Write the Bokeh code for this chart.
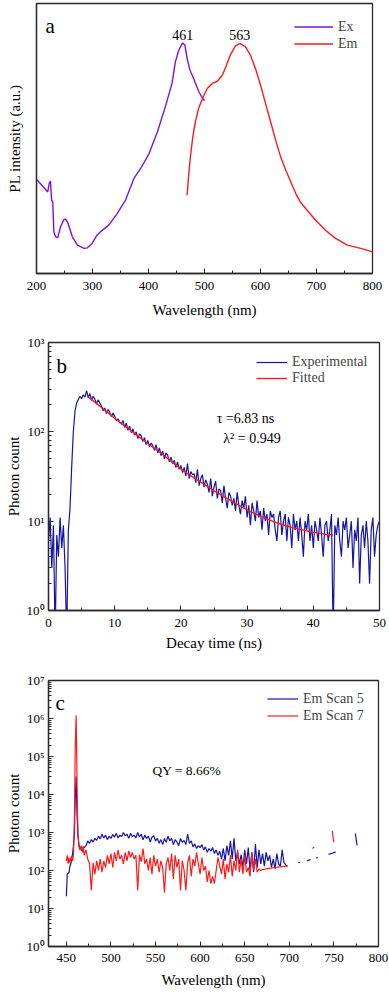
import math
from bokeh.plotting import figure
from bokeh.models import Range1d, FixedTicker, Legend, LegendItem, Label
from bokeh.layouts import column
from bokeh.embed import file_html
from bokeh.resources import INLINE

FONT = "Liberation Serif"
nan = float("nan")

# ---------------- panel a : excitation / emission spectra ----------------
ex_wl = [200, 220, 223, 225, 227, 229, 231, 234, 238, 243,
         249, 252, 256, 264, 273, 285, 291, 299, 308, 314,
         329, 344, 359, 374, 386, 401, 416, 430, 442, 448,
         454, 461, 465, 469, 474, 478, 484, 490, 496, 500]
ex_int = [34.9, 30.2, 33.6, 34.2, 27.2, 26.5, 15.4, 13.6, 13.3, 17.3,
          20.0, 20.1, 18.8, 13.6, 10.5, 9.3, 9.5, 11.1, 14.2, 15.4,
          17.9, 22.2, 27.2, 35.2, 38.9, 44.4, 52.5, 61.7, 70.4, 78.4,
          82.7, 85.4, 84.6, 79.6, 75.3, 73.5, 70.4, 67.3, 65.0, 64.0]
em_wl = [469, 472, 475, 479, 484, 490, 496, 500, 505, 514,
         523, 532, 538, 546, 555, 563, 573, 582, 591, 600,
         609, 618, 627, 636, 645, 654, 663, 671, 683, 698,
         716, 734, 755, 779, 800]
em_int = [29.0, 37.0, 43.5, 50.5, 56.5, 61.5, 64.5, 66.5, 68.5, 70.4,
          71.2, 73.5, 76.5, 80.9, 84.2, 85.2, 84.0, 80.9, 75.9, 69.8,
          63.0, 56.2, 49.4, 43.2, 38.3, 34.0, 29.6, 26.5, 23.5, 19.8,
          16.0, 13.0, 10.5, 9.3, 8.0]
a_xticks = [200, 300, 400, 500, 600, 700, 800]
peak_labels = [(461, "461"), (563, "563")]

# ---------------- panel b : decay ----------------
decay_t = [i * 0.25 for i in range(201)]
decay_exp = [6, 11, 3, 9, 0.5, 7, 4, 11,
             5, 9, 3, 0.5, 8, 14, 40, 100,
             170, 210, 230, 250, 235, 260, 245, 290,
             240, 268, 225, 250, 232, 205, 228, 212,
             195, 172, 185, 160, 178, 166, 148, 162,
             150, 133, 140, 128, 122, 134, 112, 125,
             104, 116, 98, 108, 92, 100, 84, 95,
             90, 78, 86, 72, 80, 68, 75, 70,
             62, 72, 58, 66, 54, 61, 50, 58,
             55, 46, 52, 44, 48, 40, 46, 38,
             42, 35, 40, 32, 44, 30, 36, 33,
             34, 27, 38, 25, 30, 33, 24, 29,
             26, 21, 30, 19, 24, 28, 18, 23,
             22, 16, 25, 18, 14, 21, 19, 15,
             18, 13, 21, 15, 12, 17, 14, 19,
             11, 15, 9, 16, 13, 10, 17, 11,
             13, 8, 14, 10, 12, 7, 13, 11,
             12, 8, 6, 11, 13, 7, 10, 12,
             6, 11, 9, 5, 12, 8, 10, 6,
             11, 7, 4, 10, 8, 12, 6, 9,
             5, 10, 8, 6, 11, 7, 4, 9,
             10, 6, 8, 12, 0.5, 9, 7, 11,
             6, 4, 10, 8, 11, 5, 7, 10,
             3, 8, 6, 11, 2, 7, 9, 5,
             10, 6, 2, 8, 11, 4, 7, 9,
             10]
fit_t = list(range(6, 44))
fit_val = [245, 215, 188, 163, 142, 124, 109, 96, 84, 74,
           65, 57.5, 50.5, 44, 38.5, 34, 30.5, 27.3, 24.5, 22,
           19.8, 17.9, 16.2, 14.7, 13.4, 12.3, 11.4, 10.6, 9.9, 9.3,
           8.8, 8.4, 8.1, 7.8, 7.5, 7.3, 7.1, 7.0]

# ---------------- panel c : QY scans ----------------
qy_wl = list(range(450, 471)) + list(range(472, 781, 2))
scan5 = [21, 80, 85, 90, 130, 150, 200, 280, 450, 900,
         8000, 30000, 3000, 900, 500, 380, 420, 330, 360, 420, 400,
         450, 600, 520, 650, 560, 700, 620, 800, 680, 900,
         720, 850, 650, 800, 700, 880, 760, 950, 720, 850,
         780, 1000, 820, 900, 700, 950, 780, 850, 720, 1000,
         760, 900, 640, 850, 700, 800, 560, 750, 820, 600,
         700, 520, 650, 480, 700, 550, 800, 600, 700, 480,
         650, 560, 450, 700, 550, 620, 480, 900, 520, 600,
         420, 500, 380, 450, 400, 480, 350, 420, 300, 380,
         320, 400, 280, 350, 250, 320, 200, 380, 180, 450,
         250, 600, 200, 700, 180, 300, 150, 260, 120, 350,
         150, 400, 100, 300, 90, 500, 120, 350, 150, 280,
         130, 300, 180, 250, 120, 200, 110, 280, 150, 130,
         350, 160, 140, 130,
         nan, nan, nan, nan, nan, 160, 165, nan, nan, nan,
         180, 188, 195, nan, nan, 210, 220, nan, nan, nan,
         nan, nan, 265, 275, 285, 295, 305, nan, nan, nan,
         nan, nan, nan, nan, nan, nan, nan, 930, 460, nan, nan]
scan7 = [180, 250, 150, 220, 160, 200, 240, 180, 260, 2000,
         200000, 1200000, 20000, 900, 450, 350, 400, 450, 300, 420, 250,
         350, 200, 150, 30, 160, 80, 180, 100, 200, 90,
         180, 120, 250, 150, 280, 120, 300, 180, 350, 200,
         250, 150, 300, 180, 330, 220, 300, 200, 250, 30,
         260, 170, 380, 150, 200, 100, 220, 80, 250, 130,
         200, 90, 180, 120, 26, 150, 220, 100, 280, 60,
         250, 120, 200, 30, 180, 100, 30, 160, 250, 70,
         200, 130, 300, 150, 80, 220, 100, 130, 50, 100,
         45, 70, 45, 100, 220, 130, 80, 200, 60, 150,
         90, 250, 70, 180, 100, 350, 90, 200, 80, 250,
         90, 120, 70, 300, 100, 200, 90, 110, 100, 105,
         108, 110, 112, 114, 116, 118, 120, 122, 124, 125,
         126, 128, 128, 130,
         nan, nan, nan, nan, nan, nan, nan, nan, nan, nan,
         nan, nan, nan, 380, 420, nan, nan, nan, nan, nan,
         nan, nan, nan, nan, 1100, 550, nan, nan, nan, nan,
         nan, nan, nan, nan, nan, nan, nan, nan, nan, nan, nan]

PURPLE = "#7a12e6"
RED = "#ff1a1a"
BLUE = "#1414a8"
FRAME = "#2a2a2a"
W = 389


def base_fig(height, top, bottom, left, right, xr, yr, ylog=False):
    p = figure(width=W, height=height, x_range=xr, y_range=yr,
               y_axis_type="log" if ylog else "linear",
               output_backend="svg", toolbar_location=None,
               min_border_top=top, min_border_bottom=bottom,
               min_border_left=left, min_border_right=right)
    p.xgrid.grid_line_color = None
    p.ygrid.grid_line_color = None
    p.outline_line_color = FRAME
    p.outline_line_width = 1.3
    p.background_fill_color = "white"
    for ax in (p.xaxis[0], p.yaxis[0]):
        ax.axis_line_color = FRAME
        ax.axis_line_width = 1.3
        ax.major_tick_line_color = FRAME
        ax.minor_tick_line_color = FRAME
        ax.major_tick_in = 5
        ax.major_tick_out = 0
        ax.minor_tick_in = 3
        ax.minor_tick_out = 0
        ax.major_label_text_font = FONT
        ax.major_label_text_font_size = "13px"
        ax.major_label_text_color = "black"
        ax.axis_label_text_font = FONT
        ax.axis_label_text_font_size = "15px"
        ax.axis_label_text_font_style = "normal"
        ax.axis_label_text_color = "black"
    p.xaxis.major_label_standoff = 8
    p.xaxis.axis_label_standoff = 7
    p.yaxis.major_label_standoff = 4
    p.yaxis.axis_label_standoff = 2
    return p


def legend(p, items, loc, glyph_w, item_h):
    lg = Legend(items=[LegendItem(label=t, renderers=[r]) for t, r in items],
                location=loc, background_fill_alpha=0, border_line_alpha=0,
                label_text_font=FONT, label_text_font_size="14px",
                glyph_width=glyph_w, glyph_height=item_h, label_height=item_h,
                spacing=0, padding=0, margin=0, label_standoff=5)
    p.add_layout(lg)


def label(p, x, y, text, size="14px"):
    p.add_layout(Label(x=x, y=y, text=text, text_font=FONT, text_font_size=size,
                       text_baseline="middle", text_align="left", text_color="black"))


# ---- panel a
pa = base_fig(330, 3, 57, 36, 17, Range1d(200, 800), Range1d(0, 100))
pa.xaxis.ticker = FixedTicker(ticks=a_xticks, minor_ticks=[250, 350, 450, 550, 650, 750])
pa.xaxis.axis_label = "Wavelength (nm)"
pa.xaxis.axis_label_standoff = 9
pa.yaxis.ticker = FixedTicker(ticks=[])
pa.yaxis.axis_label = "PL intensity (a.u.)"
pa.yaxis.major_label_standoff = 0
pa.yaxis.axis_label_standoff = 14
r_ex = pa.line(ex_wl, ex_int, line_color=PURPLE, line_width=1.4)
r_em = pa.line(em_wl, em_int, line_color=RED, line_width=1.4)
legend(pa, [("Ex", r_ex), ("Em", r_em)], (258, 221), 39, 17)
label(pa, 216, 91.5, "a", "21px")
for xv, t in peak_labels:
    pa.add_layout(Label(x=xv, y=88.3, text=t, text_font=FONT, text_font_size="14px",
                        text_baseline="middle", text_align="center", text_color="black"))

# ---- panel b
pb = base_fig(330, 12, 50, 48, 10, Range1d(0, 50), Range1d(1, 1000), ylog=True)
pb.xaxis.ticker = FixedTicker(ticks=[0, 10, 20, 30, 40, 50], minor_ticks=[5, 15, 25, 35, 45])
pb.yaxis.ticker = FixedTicker(ticks=[1, 10, 100, 1000],
                              minor_ticks=[m * 10 ** k for k in range(3) for m in range(2, 10)])
pb.yaxis.major_label_overrides = {1: "10⁰", 10: "10¹", 100: "10²", 1000: "10³"}
pb.xaxis.axis_label = "Decay time (ns)"
pb.xaxis.axis_label_standoff = 5
pb.yaxis.axis_label = "Photon count"
r_exp = pb.line(decay_t, decay_exp, line_color=BLUE, line_width=1.2)
r_fit = pb.line(fit_t, fit_val, line_color=RED, line_width=1.4)
legend(pb, [("Experimental", r_exp), ("Fitted", r_fit)], (208, 224), 31, 16)
label(pb, 1.2, 550, "b", "21px")
label(pb, 25.4, 141, "τ =6.83 ns")
label(pb, 26.4, 84, "λ² = 0.949")

# ---- panel c
pc = base_fig(330, 20, 44, 48, 11, Range1d(430, 800), Range1d(1, 1e7), ylog=True)
pc.xaxis.ticker = FixedTicker(ticks=[450, 500, 550, 600, 650, 700, 750, 800],
                              minor_ticks=[475, 525, 575, 625, 675, 725, 775])
pc.yaxis.ticker = FixedTicker(ticks=[10 ** k for k in range(8)],
                              minor_ticks=[m * 10 ** k for k in range(7) for m in range(2, 10)])
sup = "⁰¹²³⁴⁵⁶⁷"
pc.yaxis.major_label_overrides = {10 ** k: "10" + sup[k] for k in range(8)}
pc.xaxis.axis_label = "Wavelength (nm)"
pc.xaxis.major_label_standoff = 7
pc.xaxis.axis_label_standoff = 7
pc.yaxis.axis_label = "Photon count"
n = min(len(qy_wl), len(scan5), len(scan7))
r_s5 = pc.line(qy_wl[:n], scan5[:n], line_color=BLUE, line_width=1.2)
r_s7 = pc.line(qy_wl[:n], scan7[:n], line_color=RED, line_width=1.2)
legend(pc, [("Em Scan 5", r_s5), ("Em Scan 7", r_s7)], (219, 222), 31, 17)
label(pc, 437.8, 2.6e6, "c", "21px")
label(pc, 546.6, 4.3e4, "QY = 8.66%", "13.5px")

layout = column(column(pa), column(pb), column(pc), spacing=0)
open("out.html", "w").write(file_html(layout, INLINE))
